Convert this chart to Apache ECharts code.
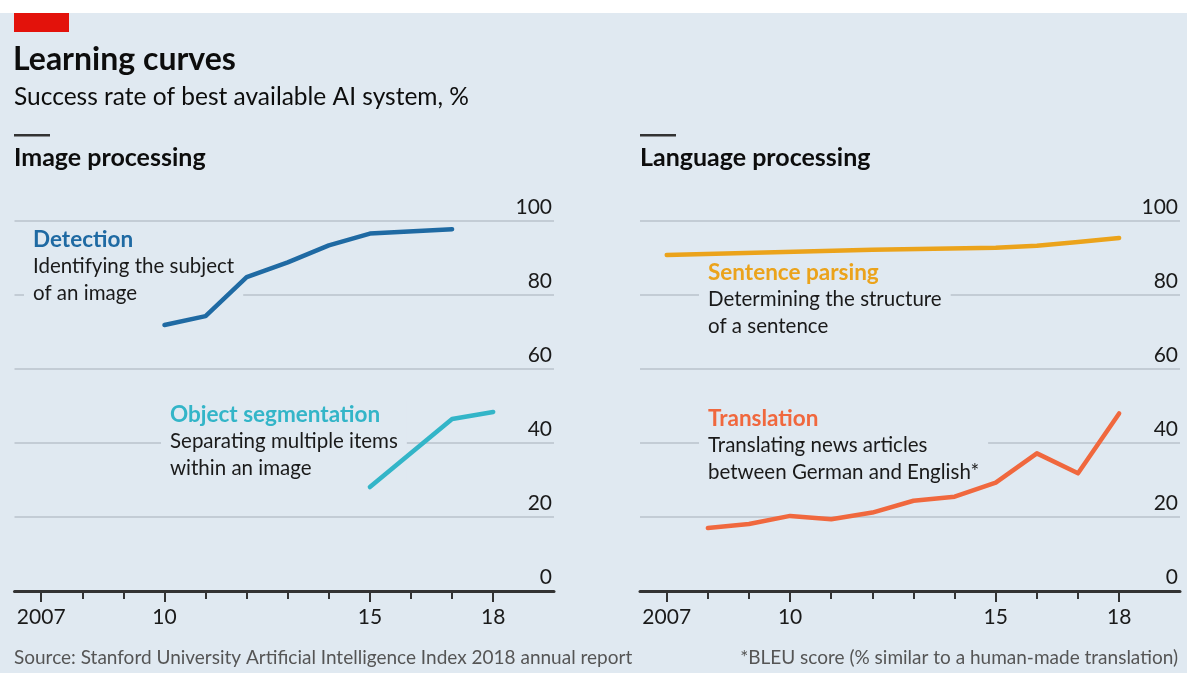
<!DOCTYPE html>
<html>
<head>
<meta charset="utf-8">
<script src="https://cdn.jsdelivr.net/npm/echarts@6/dist/echarts.min.js"></script>
<style>
  html, body { margin: 0; padding: 0; background: #fff; }
  #chart { width: 1187px; height: 673px; }
</style>
</head>
<body>
<div id="chart"></div>
<script>
// data, [year, %]
var detection = [[2010, 71.9], [2011, 74.3], [2012, 84.8], [2013, 88.8], [2014, 93.4], [2015, 96.6], [2017, 97.8]]
var segmentation = [[2015, 28.1], [2017, 46.5], [2018, 48.4]]
var parsing = [[2007, 90.8], [2012, 92.2], [2015, 92.8], [2016, 93.3], [2017, 94.3], [2018, 95.4]]
var translation = [[2008, 17.0], [2009, 18.1], [2010, 20.3], [2011, 19.4], [2012, 21.2], [2013, 24.4],
  [2014, 25.5], [2015, 29.3], [2016, 37.2], [2017, 31.8], [2018, 48.0]]
var allYears = [2007, 2008, 2009, 2010, 2011, 2012, 2013, 2014, 2015, 2016, 2017, 2018]
var labelYears = [2007, 2010, 2015, 2018]
var yTicks = [0, 20, 40, 60, 80, 100]

var bg = '#e0e9f1'
var font = 'Lato'
var colors = { det: '#1f6aa3', seg: '#33b5c8', par: '#eba31b', tra: '#f0683e' }

var chart = echarts.init(document.getElementById('chart'))

function xAxes(gridIndex) {
  // minor ticks for every year + axis line
  var minor = {
    type: 'value', gridIndex: gridIndex, min: 2006.35, max: 2019.48,
    axisLine: { show: true, onZero: false, lineStyle: { color: '#333', width: 3 } },
    axisTick: { show: true, customValues: allYears, length: 8, lineStyle: { color: '#333', width: 2 } },
    axisLabel: { show: false },
    splitLine: { show: false }
  }
  // longer ticks and labels at the labelled years
  var major = {
    type: 'value', gridIndex: gridIndex, min: 2006.35, max: 2019.48, position: 'bottom',
    axisLine: { show: false },
    axisTick: { show: true, customValues: labelYears, length: 11, lineStyle: { color: '#333', width: 2 } },
    axisLabel: {
      show: true, customValues: labelYears, margin: 16, fontSize: 21, fontFamily: font, color: '#1a1a1a',
      formatter: function (v) { return v === 2007 ? '2007' : String(v).slice(2) }
    },
    splitLine: { show: false }
  }
  return [minor, major]
}

function yAxis(gridIndex) {
  return {
    type: 'value', gridIndex: gridIndex, min: 0, max: 100, interval: 20, position: 'right',
    axisLine: { show: false }, axisTick: { show: false },
    axisLabel: {
      inside: true, verticalAlign: 'bottom', margin: 2, padding: [0, 0, 3, 0],
      fontSize: 21, fontFamily: font, color: '#1a1a1a'
    },
    splitLine: { show: true, lineStyle: { color: '#c3ccd5', width: 2 } }
  }
}

function lineSeries(name, data, color, xi, yi) {
  return {
    name: name, type: 'line', data: data, xAxisIndex: xi, yAxisIndex: yi,
    showSymbol: false, symbol: 'none', z: 3,
    lineStyle: { color: color, width: 4.5, cap: 'round', join: 'round' }
  }
}

function note(x, y, title, color, lines) {
  var txt = '{t|' + title + '}'
  lines.forEach(function (l) { txt += '\n{d|' + l + '}' })
  return {
    type: 'text', x: x, y: y, z: 1,
    style: {
      text: txt, backgroundColor: bg, padding: [0, 9, 0, 9],
      rich: {
        t: { fontFamily: font, fontWeight: 'bold', fontSize: 22.5, fill: color, lineHeight: 27 },
        d: { fontFamily: font, fontSize: 20.5, fill: '#1a1a1a', lineHeight: 27 }
      }
    }
  }
}

var xa = xAxes(0).concat(xAxes(1))

var option = {
  backgroundColor: bg,
  animation: false,
  grid: [
    { left: 14.5, top: 221, width: 539.5, height: 370 },
    { left: 640, top: 221, width: 540, height: 370 }
  ],
  xAxis: xa,
  yAxis: [yAxis(0), yAxis(1)],
  series: [
    lineSeries('Detection', detection, colors.det, 0, 0),
    lineSeries('Object segmentation', segmentation, colors.seg, 0, 0),
    lineSeries('Sentence parsing', parsing, colors.par, 2, 1),
    lineSeries('Translation', translation, colors.tra, 2, 1)
  ],
  graphic: [
    { type: 'rect', shape: { x: 0, y: 0, width: 1187, height: 13 }, style: { fill: '#fff' } },
    { type: 'rect', shape: { x: 14, y: 13, width: 55, height: 19 }, style: { fill: '#e3120b' } },
    { type: 'text', x: 13, y: 44, style: { text: 'Learning curves', fontFamily: font, fontWeight: 'bold', fontSize: 32, fill: '#0d0d0d' } },
    { type: 'text', x: 14, y: 85, style: { text: 'Success rate of best available AI system, %', fontFamily: font, fontSize: 24.5, fill: '#0d0d0d' } },
    { type: 'rect', shape: { x: 14, y: 134, width: 36, height: 2.5 }, style: { fill: '#333' } },
    { type: 'text', x: 14, y: 145, style: { text: 'Image processing', fontFamily: font, fontWeight: 'bold', fontSize: 25, fill: '#0d0d0d' } },
    { type: 'rect', shape: { x: 640, y: 134, width: 36, height: 2.5 }, style: { fill: '#333' } },
    { type: 'text', x: 640, y: 145, style: { text: 'Language processing', fontFamily: font, fontWeight: 'bold', fontSize: 25, fill: '#0d0d0d' } },
    note(24, 226, 'Detection', colors.det, ['Identifying the subject', 'of an image']),
    note(161, 401, 'Object segmentation', colors.seg, ['Separating multiple items', 'within an image']),
    note(699, 259, 'Sentence parsing', colors.par, ['Determining the structure', 'of a sentence']),
    note(699, 405, 'Translation', colors.tra, ['Translating news articles', 'between German and English*']),
    { type: 'text', x: 14, y: 648, style: { text: 'Source: Stanford University Artificial Intelligence Index 2018 annual report', fontFamily: font, fontSize: 19, fill: '#555' } },
    { type: 'text', x: 1178, y: 648, style: { text: '*BLEU score (% similar to a human-made translation)', fontFamily: font, fontSize: 19, fill: '#555', align: 'right' } }
  ]
}

chart.setOption(option)
</script>
</body>
</html>
